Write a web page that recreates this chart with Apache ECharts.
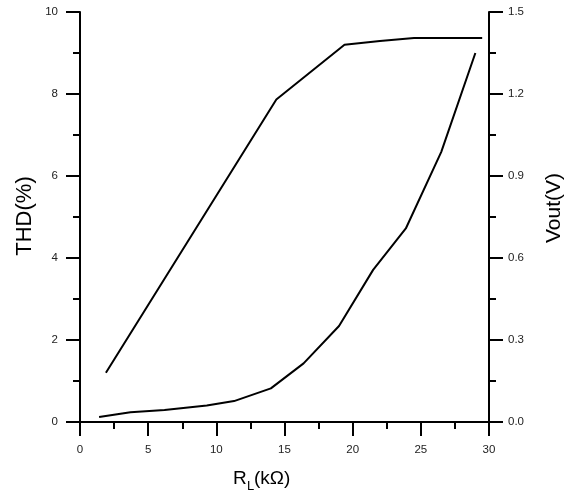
<!DOCTYPE html>
<html>
<head>
<meta charset="utf-8">
<script src="https://cdn.jsdelivr.net/npm/echarts@6/dist/echarts.min.js"></script>
<style>html,body{margin:0;padding:0;background:#fff;}#c{width:569px;height:495px;}</style>
</head>
<body>
<div id="c"></div>
<script>
// THD (%) vs R_L (kΩ) - left axis
const thdX = [1.4, 3.7, 6.2, 9.3, 11.3, 14.0, 16.4, 19.0, 21.5, 23.9, 26.5, 29.0];
const thdY = [0.12, 0.24, 0.29, 0.40, 0.51, 0.82, 1.43, 2.34, 3.71, 4.72, 6.59, 9.0];
// Vout (V) vs R_L (kΩ) - right axis
const voutX = [1.9, 14.4, 19.4, 22.0, 24.5, 29.5];
const voutY = [0.18, 1.18, 1.38, 1.394, 1.405, 1.405];
const xTicks = [0, 5, 10, 15, 20, 25, 30];
const thdTicks = [0, 2, 4, 6, 8, 10];
const voutTicks = ['0.0', '0.3', '0.6', '0.9', '1.2', '1.5'];

const chart = echarts.init(document.getElementById('c'), null, {renderer: 'canvas'});
const font = 'Liberation Sans, Arial, sans-serif';
const axisLineStyle = {color: '#000', width: 2};
const labelStyle = {color: '#222', fontSize: 11.5, fontFamily: font};

chart.setOption({
  animation: false,
  backgroundColor: '#fff',
  grid: {left: 80, right: 80, top: 12, bottom: 73, containLabel: false},
  xAxis: {
    type: 'value', min: 0, max: 30, interval: 5,
    axisLine: {show: true, onZero: false, lineStyle: axisLineStyle},
    axisTick: {show: true, inside: false, length: 14, lineStyle: {color: '#000', width: 2}},
    minorTick: {show: true, splitNumber: 2, length: 7, lineStyle: {color: '#000', width: 2}},
    axisLabel: Object.assign({margin: 22, formatter: v => xTicks.includes(v) ? String(v) : ''}, labelStyle),
    splitLine: {show: false}
  },
  yAxis: [{
    type: 'value', min: 0, max: 10, interval: 2, position: 'left',
    axisLine: {show: true, onZero: false, lineStyle: axisLineStyle},
    axisTick: {show: true, inside: false, length: 14, lineStyle: {color: '#000', width: 2}},
    minorTick: {show: true, splitNumber: 2, length: 7, lineStyle: {color: '#000', width: 2}},
    axisLabel: Object.assign({margin: 22, formatter: v => thdTicks.includes(v) ? String(v) : ''}, labelStyle),
    splitLine: {show: false}
  }, {
    type: 'value', min: 0, max: 1.5, interval: 0.3, position: 'right',
    axisLine: {show: true, onZero: false, lineStyle: axisLineStyle},
    axisTick: {show: true, inside: false, length: 14, lineStyle: {color: '#000', width: 2}},
    minorTick: {show: true, splitNumber: 2, length: 7, lineStyle: {color: '#000', width: 2}},
    axisLabel: Object.assign({margin: 19, formatter: v => {
      const s = v.toFixed(1); return voutTicks.includes(s) ? s : '';
    }}, labelStyle),
    splitLine: {show: false}
  }],
  series: [{
    name: 'THD', type: 'line', yAxisIndex: 0,
    data: thdX.map((x, i) => [x, thdY[i]]),
    showSymbol: false, lineStyle: {color: '#000', width: 2}
  }, {
    name: 'Vout', type: 'line', yAxisIndex: 1,
    data: voutX.map((x, i) => [x, voutY[i]]),
    showSymbol: false, lineStyle: {color: '#000', width: 2}
  }],
  graphic: [
    {type: 'text', x: 25, y: 216, rotation: Math.PI / 2,
     style: {text: 'THD(%)', font: '22px ' + font, fill: '#000', align: 'center', verticalAlign: 'middle'}},
    {type: 'text', x: 554, y: 208, rotation: Math.PI / 2,
     style: {text: 'Vout(V)', font: '21px ' + font, fill: '#000', align: 'center', verticalAlign: 'middle'}},
    {type: 'text', x: 233, y: 478.5,
     style: {text: 'R', font: '19px ' + font, fill: '#000', align: 'left', verticalAlign: 'middle'}},
    {type: 'text', x: 247, y: 486,
     style: {text: 'L', font: '13px ' + font, fill: '#000', align: 'left', verticalAlign: 'middle'}},
    {type: 'text', x: 254, y: 478.5,
     style: {text: '(kΩ)', font: '19px ' + font, fill: '#000', align: 'left', verticalAlign: 'middle'}}
  ]
});
</script>
</body>
</html>
